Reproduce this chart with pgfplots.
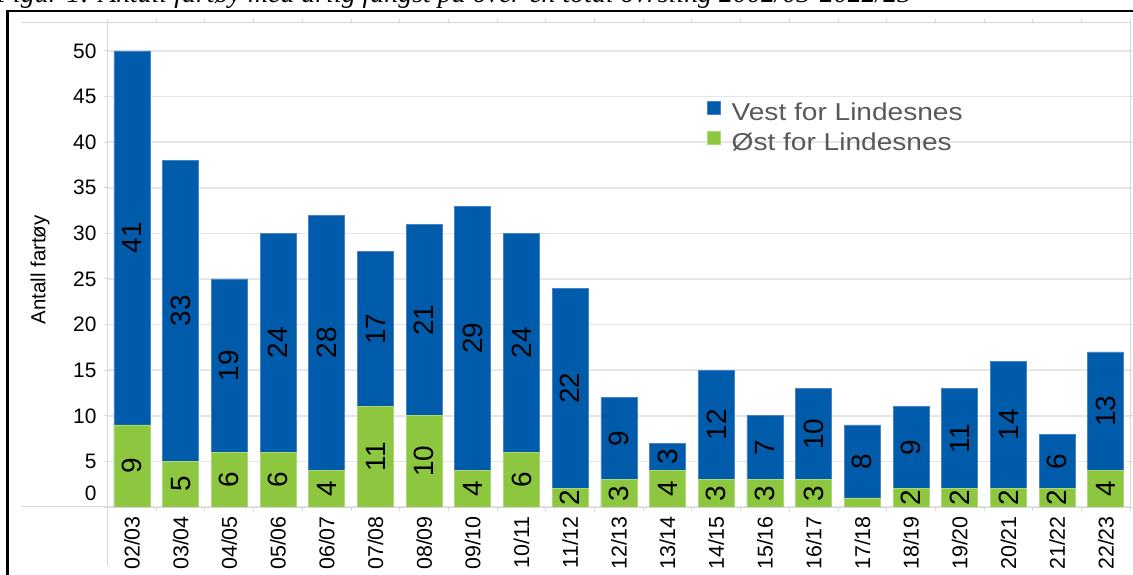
\documentclass[border=0pt]{standalone}
\usepackage{graphicx}
\usepackage{pgfplots}
\usepackage{pgfplotstable}
\pgfplotsset{compat=1.18}
\usepackage{fontspec}
\setmainfont{Liberation Sans}
\newfontfamily\titlefont{Liberation Serif}
\definecolor{vest}{RGB}{0,91,170}
\definecolor{vestedge}{RGB}{70,130,200}
\definecolor{ost}{RGB}{141,198,63}
\definecolor{ostedge}{RGB}{175,215,120}
\definecolor{gridgray}{RGB}{230,230,230}
\definecolor{axgray}{RGB}{215,215,215}
\definecolor{legtext}{RGB}{89,89,89}

\pgfplotstableread{
x tot ost
0 50 9
1 38 5
2 25 6
3 30 6
4 32 4
5 28 11
6 31 10
7 33 4
8 30 6
9 24 2
10 12 3
11 7 4
12 15 3
13 10 3
14 13 3
15 9 1
16 11 2
17 13 2
18 16 2
19 8 2
20 17 4
}\bars

\pgfplotstableread{
x y lab
0 4.5 9
0 29.5 41
1 2.5 5
1 21.5 33
2 3 6
2 15.5 19
3 3 6
3 18 24
4 2 4
4 18 28
5 5.5 11
5 19.5 17
6 5 10
6 20.5 21
7 2 4
7 18.5 29
8 3 6
8 18 24
9 1 2
9 13 22
10 1.5 3
10 7.5 9
11 2 4
11 5.5 3
12 1.5 3
12 9 12
13 1.5 3
13 6.5 7
14 1.5 3
14 8 10
15 5 8
16 1 2
16 6.5 9
17 1 2
17 7.5 11
18 1 2
18 9 14
19 1 2
19 5 6
20 2 4
20 10.5 13
}\labels

\begin{document}
\begin{tikzpicture}
\useasboundingbox (0,0) rectangle (1133bp,575bp);
\node[anchor=base west, inner sep=0pt, font=\titlefont\itshape\fontsize{28}{30}\selectfont] at (-4bp,572.5bp)
  {Figur 1: Antall fartøy med årlig fangst på over en total ovrsling 2002/03-2022/23};
\draw[black, line width=2.5bp] (7.5bp,-20bp) -- (7.5bp,564bp) -- (1150bp,564bp);
\draw[axgray, line width=1bp] (22bp,552bp) -- (107.6bp,552bp);
\draw[axgray, line width=1bp] (22bp,68bp) -- (107.6bp,68bp);
\draw[axgray, line width=1bp] (107.6bp,68bp) -- (107.6bp,9bp);
\begin{axis}[
  at={(107.6bp,68bp)}, anchor=south west,
  scale only axis, width=1022.6bp, height=484bp,
  xmin=-0.5, xmax=20.5, ymin=0, ymax=53.07,
  xtick={0,...,20},
  xticklabels={02/03,03/04,04/05,05/06,06/07,07/08,08/09,09/10,10/11,11/12,12/13,13/14,14/15,15/16,16/17,17/18,18/19,19/20,20/21,21/22,22/23},
  ytick={0,5,10,15,20,25,30,35,40,45,50},
  yticklabels={\raisebox{14bp}[\height][\depth]{0},5,10,15,20,25,30,35,40,45,50},
  minor xtick={-0.5,0.5,...,20.5},
  tick align=outside,
  major tick length=4bp, minor tick length=4bp,
  major x tick style={draw=none},
  minor x tick style={draw=axgray, line width=1bp},
  major y tick style={draw=axgray, line width=1bp},
  ymajorgrids,
  major grid style={draw=gridgray, line width=1.6bp},
  axis line style={draw=axgray, line width=1bp},
  xticklabel style={rotate=90, anchor=east, inner sep=0pt, font=\fontsize{21.5}{22}\selectfont},
  yticklabel style={anchor=east, inner sep=0pt, font=\fontsize{21}{22}\selectfont},
  xticklabel shift=5bp, yticklabel shift=7bp,
  ylabel={Antall fartøy},
  every axis y label/.style={at={(axis description cs:-0.066,0.49)}, rotate=90, anchor=center, font=\fontsize{20.5}{22}\selectfont},
  legend image code/.code={\fill[#1] (0bp,1.8bp) rectangle (13bp,14.8bp);},
  legend cell align=left,
  legend style={at={(axis description cs:0.5861,0.8397)}, anchor=north west, draw=none, fill=none,
    inner sep=0pt, outer sep=0pt, column sep=11bp, row sep=0pt,
    font=\fontsize{24.5}{26}\selectfont, text=legtext,
    nodes={inner sep=0pt, text height=20bp, text depth=10bp}},
]
\addplot[ybar, bar width=36bp, bar shift=0pt, fill=vest, draw=vestedge, line width=0.75bp] table[x=x, y=tot] {\bars};
\addlegendentry{\scalebox{1.15}[1]{Vest for Lindesnes}}
\addplot[ybar, bar width=36bp, bar shift=0pt, fill=ost, draw=ostedge, line width=0.75bp] table[x=x, y=ost] {\bars};
\addlegendentry{\scalebox{1.15}[1]{Øst for Lindesnes}}
\addplot[draw=none, forget plot, nodes near coords, point meta=explicit symbolic,
  nodes near coords align=center,
  every node near coord/.append style={rotate=90, anchor=center, inner sep=0pt, text=black, font=\fontsize{28}{28}\selectfont}]
  table[x=x, y=y, meta=lab] {\labels};
\end{axis}
\end{tikzpicture}
\end{document}
